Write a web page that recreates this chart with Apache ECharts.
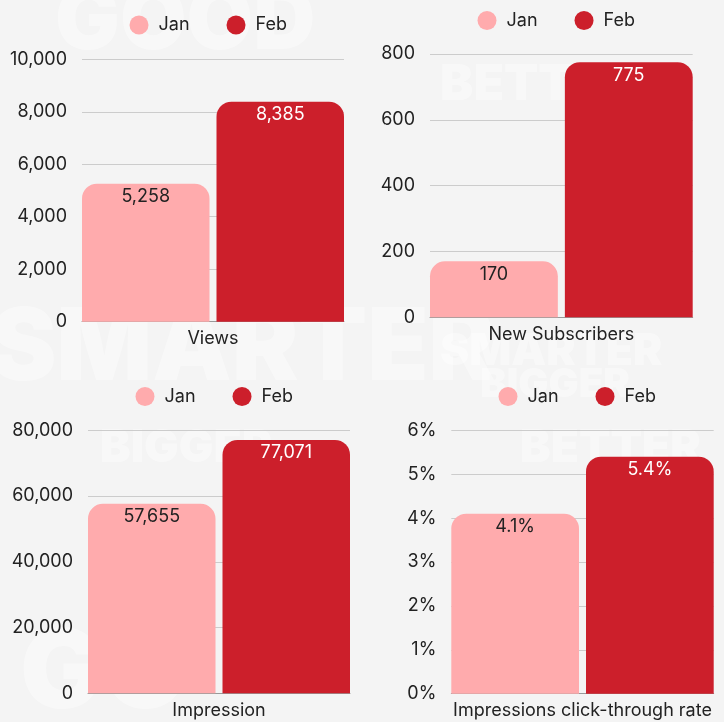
<!DOCTYPE html>
<html>
<head>
<meta charset="utf-8">
<script src="https://cdn.jsdelivr.net/npm/echarts@6/dist/echarts.min.js"></script>
<style>
html,body{margin:0;padding:0;background:#f4f4f4;}
#c{width:724px;height:722px;}
</style>
</head>
<body>
<div id="c"></div>
<script>
const categories = ['Views', 'New Subscribers', 'Impression', 'Impressions click-through rate'];
const seriesNames = ['Jan', 'Feb'];
const janValues = [5258, 170, 57655, 4.1];
const febValues = [8385, 775, 77071, 5.4];
const yMax = [10000, 800, 80000, 6];
const yInterval = [2000, 200, 20000, 1];
const unitSuffix = ['', '', '', '%'];
const watermarkWords = ['GOOD', 'BETTER', 'SMARTER', 'SMARTER', 'BIGGER', 'BETTER', 'BIGGER', 'GO'];

const FONT = 'Inter, "Noto Sans", sans-serif';
const JAN = '#ffabad';
const FEB = '#cc1f2b';

const grids = [
  {left: 82, top: 59.3, width: 262, height: 262.4},
  {left: 430, top: 54, width: 262.7, height: 263.3},
  {left: 88, top: 430.3, width: 262, height: 263},
  {left: 451.3, top: 430.3, width: 262.4, height: 263.4}
];
const legendPos = [
  {left: 129.5, top: 15.5},
  {left: 477.5, top: 11},
  {left: 135.5, top: 387},
  {left: 498.5, top: 387}
];
const wmPos = [
  {x: 55, y: -20, s: 86}, {x: 440, y: 60, s: 50}, {x: -10, y: 300, s: 100},
  {x: 440, y: 330, s: 44}, {x: 100, y: 425, s: 46}, {x: 520, y: 425, s: 46},
  {x: 480, y: 365, s: 40}, {x: 20, y: 620, s: 110}
];

function fmt(v, i) {
  return (i === 3 ? v.toFixed(1) : v.toLocaleString('en-US')) + unitSuffix[i];
}

const option = {
  backgroundColor: '#f4f4f4',
  animation: false,
  textStyle: {fontFamily: FONT},
  graphic: watermarkWords.map((w, i) => ({
    type: 'text', left: wmPos[i].x, top: wmPos[i].y, z: -10, silent: true,
    style: {text: w, fontSize: wmPos[i].s, fontWeight: 900, fontFamily: FONT, fill: 'rgba(255,255,255,0.4)'}
  })),
  grid: grids.map(g => Object.assign({containLabel: false}, g)),
  legend: legendPos.map(p => ({
    left: p.left, top: p.top, padding: 0, itemGap: 37,
    icon: 'circle', itemWidth: 19, itemHeight: 19,
    data: seriesNames,
    selectedMode: false,
    textStyle: {fontSize: 18, color: '#222', fontFamily: FONT, padding: [0, 0, 0, 5]}
  })),
  xAxis: categories.map((c, i) => ({
    type: 'category', gridIndex: i, data: [c],
    axisLine: {show: true, lineStyle: {color: '#999', width: 1}},
    axisTick: {show: false},
    axisLabel: {fontSize: 18, color: '#222', margin: 8, fontFamily: FONT}
  })),
  yAxis: categories.map((c, i) => ({
    type: 'value', gridIndex: i, min: 0, max: yMax[i], interval: yInterval[i],
    axisLine: {show: false}, axisTick: {show: false},
    splitLine: {lineStyle: {color: '#cccccc', width: 1}},
    axisLabel: {fontSize: 18, color: '#222', margin: 15, fontFamily: FONT,
      formatter: v => v.toLocaleString('en-US') + unitSuffix[i]}
  })),
  series: []
};

categories.forEach((c, i) => {
  option.series.push({
    name: seriesNames[0], type: 'bar', xAxisIndex: i, yAxisIndex: i,
    data: [janValues[i]], barCategoryGap: '0%', barGap: '5.5%',
    itemStyle: {color: JAN, borderRadius: [15, 15, 0, 0]},
    label: {show: true, position: 'insideTop', distance: 4, fontSize: 18, color: '#222', fontFamily: FONT,
      formatter: p => fmt(p.value, i)}
  });
  option.series.push({
    name: seriesNames[1], type: 'bar', xAxisIndex: i, yAxisIndex: i,
    data: [febValues[i]], barCategoryGap: '0%', barGap: '5.5%',
    itemStyle: {color: FEB, borderRadius: [15, 15, 0, 0]},
    label: {show: true, position: 'insideTop', distance: 4, fontSize: 18, color: '#fff', fontFamily: FONT,
      formatter: p => fmt(p.value, i)}
  });
});

const chart = echarts.init(document.getElementById('c'), null, {renderer: 'canvas'});
chart.setOption(option);
</script>
</body>
</html>
